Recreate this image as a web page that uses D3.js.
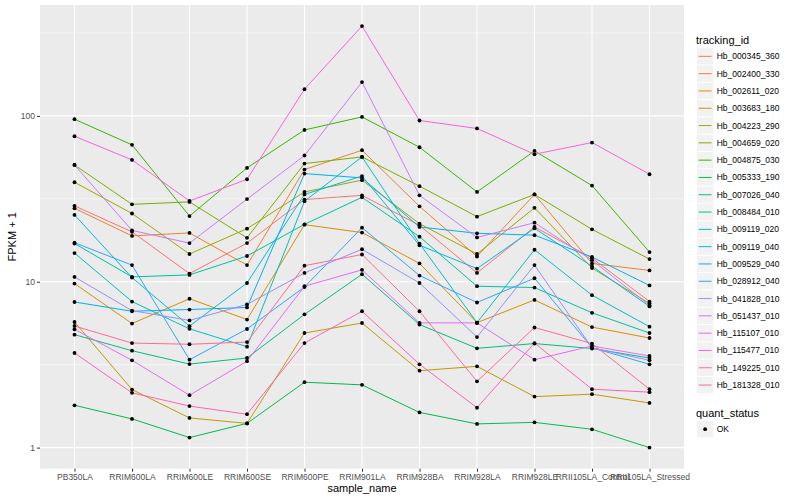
<!DOCTYPE html>
<html>
<head>
<meta charset="utf-8">
<script src="https://cdn.jsdelivr.net/npm/d3@7"></script>
<style>
  body { margin: 0; background: #fff; }
  svg { display: block; font-family: "Liberation Sans", Arial, sans-serif; }
</style>
</head>
<body>
<div id="graph"></div>
<script>
// sample names on the x axis
var categories = ["PB350LA", "RRIM600LA", "RRIM600LE", "RRIM600SE", "RRIM600PE", "RRIM901LA",
    "RRIM928BA", "RRIM928LA", "RRIM928LE", "RRII105LA_Control", "RRII105LA_Stressed"];

var trackingIds = ["Hb_000345_360", "Hb_002400_330", "Hb_002611_020", "Hb_003683_180", "Hb_004223_290",
    "Hb_004659_020", "Hb_004875_030", "Hb_005333_190", "Hb_007026_040", "Hb_008484_010",
    "Hb_009119_020", "Hb_009119_040", "Hb_009529_040", "Hb_028912_040", "Hb_041828_010",
    "Hb_051437_010", "Hb_115107_010", "Hb_115477_010", "Hb_149225_010", "Hb_181328_010"];

// FPKM + 1, one row per tracking_id, in the order of categories
var fpkm = [
    [28.7, 20.0, 11.2, 17.1, 31.3, 33.2, 21.9, 11.3, 21.4, 13.9, 7.6],
    [27.7, 18.9, 19.7, 12.6, 47.5, 62.1, 28.5, 14.2, 33.6, 12.9, 11.7],
    [9.75, 5.6, 7.9, 5.92, 22.1, 19.8, 12.9, 5.67, 7.77, 5.33, 4.58],
    [5.72, 2.24, 1.51, 1.40, 4.91, 5.64, 2.91, 3.09, 2.03, 2.10, 1.86],
    [39.8, 25.8, 14.7, 20.9, 34.8, 41.0, 22.4, 14.7, 27.9, 12.1, 7.4],
    [50.6, 29.3, 30.3, 18.4, 51.6, 56.6, 37.7, 24.7, 33.6, 20.7, 13.7],
    [95.5, 66.9, 24.9, 48.6, 82.3, 98.6, 64.7, 34.8, 61.5, 38.0, 15.1],
    [1.80, 1.49, 1.15, 1.40, 2.48, 2.39, 1.63, 1.39, 1.42, 1.29, 1.00],
    [4.80, 3.84, 3.19, 3.47, 6.36, 11.1, 5.52, 3.97, 4.24, 3.96, 3.47],
    [17.0, 10.7, 11.0, 14.3, 22.2, 32.3, 18.7, 9.4, 9.23, 6.5, 4.91],
    [14.9, 7.6, 5.2, 4.06, 30.6, 56.6, 17.0, 5.67, 15.6, 8.3, 5.36],
    [25.3, 10.6, 5.4, 9.83, 33.6, 43.4, 16.6, 12.0, 21.0, 12.4, 7.1],
    [7.55, 6.64, 6.8, 7.0, 44.9, 42.3, 21.4, 19.6, 19.1, 14.1, 9.5],
    [17.2, 12.6, 3.39, 5.19, 9.3, 21.2, 10.9, 7.5, 10.5, 4.0, 3.18],
    [10.7, 6.7, 5.85, 7.3, 11.3, 15.7, 9.83, 4.64, 12.6, 4.0, 3.36],
    [50.6, 20.4, 17.1, 31.5, 57.7, 160, 33.2, 18.5, 22.7, 13.5, 7.2],
    [5.17, 3.36, 2.07, 3.32, 9.4, 11.8, 5.65, 5.65, 3.39, 4.1, 3.57],
    [75.4, 54.3, 30.7, 41.5, 145, 348, 93.8, 84.0, 58.7, 69.1, 44.5],
    [3.72, 2.14, 1.78, 1.59, 4.27, 6.64, 3.18, 1.74, 4.27, 2.25, 2.16],
    [5.41, 4.27, 4.20, 4.33, 12.5, 14.6, 6.64, 2.51, 5.3, 4.24, 2.25]
];

var yTicks = [1, 10, 100];
var yMinor = [Math.pow(10, 0.5), Math.pow(10, 1.5), Math.pow(10, 2.5)];

// ggplot default hue palette for 20 levels
var palette = ["#F8766D", "#EA8331", "#D89000", "#C09B00", "#A3A500", "#7CAE00", "#39B600", "#00BB4E",
    "#00BF7D", "#00C1A3", "#00BFC4", "#00BAE0", "#00B0F6", "#35A2FF", "#9590FF", "#C77CFF",
    "#E76BF3", "#FA62DB", "#FF62BC", "#FF6C91"];

var width = 800, height = 500;
var panel = { left: 40, right: 684, top: 5, bottom: 468.7 };

var svg = d3.select("#graph").append("svg")
    .attr("width", width)
    .attr("height", height);

var x = d3.scalePoint()
    .domain(categories)
    .range([panel.left, panel.right])
    .padding(0.6);

// log scale with ggplot's 5% expansion
var lo = Math.log10(1.0), hi = Math.log10(348);
var pad = (hi - lo) * 0.05;
var y = d3.scaleLog()
    .domain([Math.pow(10, lo - pad), Math.pow(10, hi + pad)])
    .range([panel.bottom, panel.top]);

var color = d3.scaleOrdinal().domain(trackingIds).range(palette);

// panel background
svg.append("rect")
    .attr("x", panel.left)
    .attr("y", panel.top)
    .attr("width", panel.right - panel.left)
    .attr("height", panel.bottom - panel.top)
    .attr("fill", "#EBEBEB");

// minor grid
svg.selectAll(".minor").data(yMinor).enter().append("line")
    .attr("x1", panel.left).attr("x2", panel.right)
    .attr("y1", function(d) { return y(d); }).attr("y2", function(d) { return y(d); })
    .style("stroke", "#fff").style("stroke-width", 0.55);

// major grid
svg.selectAll(".majorY").data(yTicks).enter().append("line")
    .attr("x1", panel.left).attr("x2", panel.right)
    .attr("y1", function(d) { return y(d); }).attr("y2", function(d) { return y(d); })
    .style("stroke", "#fff").style("stroke-width", 1.1);

svg.selectAll(".majorX").data(categories).enter().append("line")
    .attr("x1", function(d) { return x(d); }).attr("x2", function(d) { return x(d); })
    .attr("y1", panel.top).attr("y2", panel.bottom)
    .style("stroke", "#fff").style("stroke-width", 1.1);

// axes
var yAxis = svg.append("g")
    .attr("transform", "translate(" + panel.left + ",0)")
    .call(d3.axisLeft(y).tickValues(yTicks).tickFormat(d3.format("d")).tickSize(3).tickPadding(2));
var xAxis = svg.append("g")
    .attr("transform", "translate(0," + panel.bottom + ")")
    .call(d3.axisBottom(x).tickSize(3).tickPadding(2));

[yAxis, xAxis].forEach(function(ax) {
    ax.select(".domain").remove();
    ax.selectAll(".tick line").style("stroke", "#333").style("stroke-width", 1);
    ax.selectAll(".tick text").style("fill", "#4D4D4D").style("font-size", "8.5px")
        .style("font-family", "Liberation Sans, Arial, sans-serif");
});

// lines
var line = d3.line()
    .x(function(d, i) { return x(categories[i]); })
    .y(function(d) { return y(d); });

svg.selectAll(".series").data(fpkm).enter().append("path")
    .attr("d", function(d) { return line(d); })
    .attr("fill", "none")
    .attr("stroke", function(d, i) { return color(trackingIds[i]); })
    .attr("stroke-width", 1);

// points
var pts = [];
fpkm.forEach(function(row, s) {
    row.forEach(function(v, i) { pts.push({ cat: categories[i], v: v }); });
});
svg.selectAll(".pt").data(pts).enter().append("circle")
    .attr("cx", function(d) { return x(d.cat); })
    .attr("cy", function(d) { return y(d.v); })
    .attr("r", 1.9)
    .attr("fill", "#000");

// axis titles
svg.append("text")
    .attr("x", (panel.left + panel.right) / 2)
    .attr("y", 492)
    .attr("text-anchor", "middle")
    .style("font-size", "11px")
    .text("sample_name");

svg.append("text")
    .attr("transform", "translate(16," + ((panel.top + panel.bottom) / 2) + ") rotate(-90)")
    .attr("text-anchor", "middle")
    .style("font-size", "11px")
    .text("FPKM + 1");

// legend: tracking_id
var legX = 697, legY0 = 48.2, step = 17.3;
svg.append("text")
    .attr("x", 696).attr("y", 44)
    .style("font-size", "11px")
    .text("tracking_id");

var leg = svg.selectAll(".leg").data(trackingIds).enter().append("g")
    .attr("transform", function(d, i) { return "translate(" + legX + "," + (legY0 + i * step) + ")"; });
leg.append("rect")
    .attr("width", 16.3).attr("height", 16.3)
    .attr("fill", "#F2F2F2");
leg.append("line")
    .attr("x1", 1.7).attr("x2", 14.6)
    .attr("y1", 8.15).attr("y2", 8.15)
    .attr("stroke", function(d) { return color(d); })
    .attr("stroke-width", 1);
leg.append("text")
    .attr("x", 19.7).attr("y", 8.15)
    .attr("dy", "0.35em")
    .style("font-size", "8.5px")
    .text(function(d) { return d; });

// legend: quant_status
svg.append("text")
    .attr("x", 696).attr("y", 416.5)
    .style("font-size", "11px")
    .text("quant_status");
var q = svg.append("g").attr("transform", "translate(" + legX + ",421)");
q.append("rect").attr("width", 16.3).attr("height", 16.3).attr("fill", "#F2F2F2");
q.append("circle").attr("cx", 8.15).attr("cy", 8.15).attr("r", 1.9).attr("fill", "#000");
q.append("text").attr("x", 19.7).attr("y", 8.15).attr("dy", "0.35em")
    .style("font-size", "8.5px").text("OK");
</script>
</body>
</html>
